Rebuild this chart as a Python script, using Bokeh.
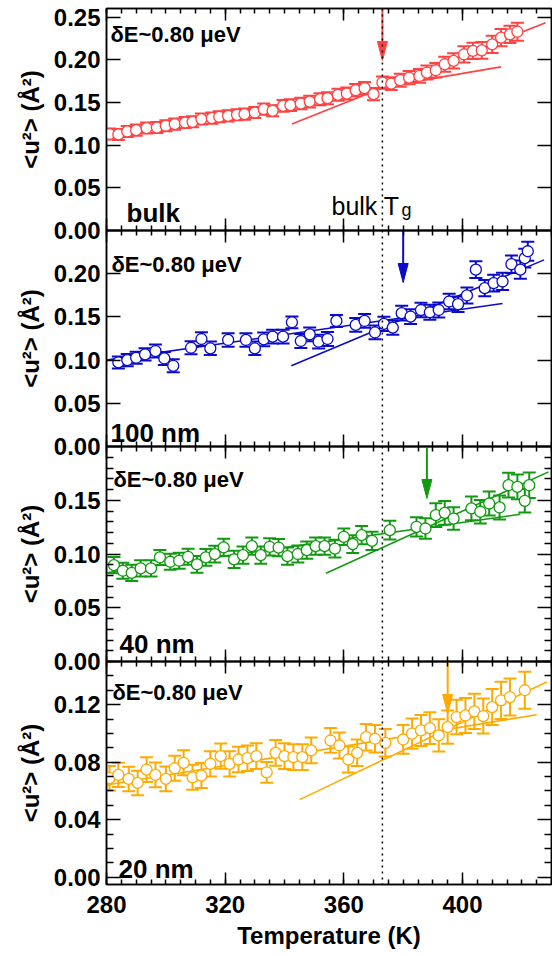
from bokeh.plotting import figure
from bokeh.models import (Range1d, LinearAxis, FixedTicker, PrintfTickFormatter,
                          Span, Whisker, TeeHead, ColumnDataSource, Label, CustomLabelingPolicy)
from bokeh.layouts import column
from bokeh.embed import file_html
from bokeh.resources import INLINE

FONT = "Liberation Sans"

# ---------------- data ----------------
X_MIN, X_MAX = 280, 430
x_ticks = [280, 320, 360, 400]
x_minor = [280, 285, 290, 295, 300, 305, 310, 315, 320, 325, 330, 335, 340, 345, 350,
           355, 360, 365, 370, 375, 380, 385, 390, 395, 400, 405, 410, 415, 420, 425, 430]

bulk_tg = 373
tg_arrow = [373, 380, 388, 395]
sample_names = ["bulk", "100 nm", "40 nm", "20 nm"]
resolution_text = "δE~0.80 μeV"

# bulk
T_bulk = [281, 284, 287, 290, 293.5, 297, 300, 303, 306.5, 309, 312, 315.5, 318, 321, 324,
          326.5, 330, 333, 336, 339.5, 342, 345.5, 348.5, 352, 354.5, 358, 361, 364, 367, 370,
          373, 376, 379, 382, 385.5, 388, 391, 394, 397, 400.5, 403.5, 406.5, 410, 413, 416, 418.5]
u2_bulk = [0.113, 0.1125, 0.116, 0.1175, 0.120, 0.1206, 0.1227, 0.1246, 0.1265, 0.1273,
           0.1305, 0.1316, 0.1332, 0.1343, 0.1355, 0.1363, 0.1382, 0.1421, 0.1402, 0.146,
           0.1468, 0.1487, 0.151, 0.1538, 0.155, 0.1589, 0.1604, 0.1643, 0.1667, 0.1597,
           0.1733, 0.172, 0.176, 0.179, 0.181, 0.185, 0.1877, 0.1947, 0.1986, 0.2064,
           0.2103, 0.211, 0.218, 0.2259, 0.2297, 0.2328]
err_bulk = [0.0065, 0.0065, 0.0065, 0.0065, 0.0065, 0.0065, 0.0065, 0.0065, 0.0065, 0.0065,
            0.0065, 0.0065, 0.0065, 0.0065, 0.0065, 0.0065, 0.0065, 0.0065, 0.0065, 0.0068,
            0.0068, 0.0068, 0.0068, 0.0070, 0.0070, 0.0070, 0.0070, 0.0072, 0.0072, 0.0072,
            0.0072, 0.0075, 0.0075, 0.0078, 0.0080, 0.0082, 0.0085, 0.0088, 0.0090, 0.0095,
            0.0095, 0.0098, 0.0100, 0.0100, 0.0102, 0.0105]
fit_lo_T_bulk = [280, 413]
fit_lo_u_bulk = [0.113, 0.1916]
fit_hi_T_bulk = [342.5, 428]
fit_hi_u_bulk = [0.1246, 0.2434]

# 100 nm
T_100 = [284, 287, 290, 293, 296.5, 299.5, 302.5, 308.5, 312, 315, 321, 327, 330, 333, 336,
         339.5, 342.5, 345.5, 348.5, 351.5, 354.5, 357.5, 364, 367, 370.5, 373.5, 376.5, 379.5,
         382.5, 386, 389, 392, 395.5, 398.5, 401.5, 404.5, 407.5, 410.5, 413.5, 416.5, 419.5,
         421, 422]
u2_100 = [0.0973, 0.100, 0.1027, 0.1066, 0.1105, 0.1019, 0.0934, 0.1143, 0.1244, 0.1136,
          0.1233, 0.1233, 0.1136, 0.124, 0.1271, 0.1271, 0.1438, 0.1221, 0.1298, 0.1213,
          0.1244, 0.1453, 0.1407, 0.1453, 0.132, 0.142, 0.1376, 0.1543, 0.1504, 0.158,
          0.1554, 0.158, 0.1678, 0.1647, 0.1748, 0.2047, 0.1833, 0.1891, 0.191, 0.211,
          0.2047, 0.218, 0.226]
err_100 = [0.0070, 0.0070, 0.0070, 0.0072, 0.0075, 0.0075, 0.0075, 0.0075, 0.0078, 0.0078,
           0.0078, 0.0078, 0.0078, 0.0080, 0.0080, 0.0080, 0.0068, 0.0080, 0.0080, 0.0080,
           0.0080, 0.0070, 0.0080, 0.0080, 0.0080, 0.0082, 0.0082, 0.0085, 0.0085, 0.0085,
           0.0088, 0.0088, 0.0090, 0.0090, 0.0092, 0.0097, 0.0095, 0.0098, 0.0100, 0.0102,
           0.0105, 0.0108, 0.0110]
fit_lo_T_100 = [280, 413.5]
fit_lo_u_100 = [0.100, 0.1655]
fit_hi_T_100 = [342.3, 427.5]
fit_hi_u_100 = [0.0934, 0.216]

# 40 nm
T_40 = [282.5, 285.5, 288.5, 291.5, 295, 298, 301.5, 304.5, 307.5, 310.5, 313.5, 316.5, 319.5,
        323, 326, 329, 332, 335, 338, 341, 344.5, 347.5, 350.5, 353.5, 357, 360, 363, 366,
        369.5, 375.5, 384.5, 387.5, 391, 394, 397, 403, 406, 409, 412.5, 415.5, 418.5, 421, 422.5]
u2_40 = [0.0897, 0.0844, 0.0825, 0.0866, 0.0866, 0.0968, 0.0928, 0.0937, 0.0974, 0.0903,
         0.0968, 0.0999, 0.1061, 0.095, 0.099, 0.1073, 0.099, 0.1067, 0.106, 0.098,
         0.100, 0.1036, 0.1073, 0.1073, 0.105, 0.116, 0.1092, 0.1176, 0.1123, 0.1222,
         0.1253, 0.1237, 0.1362, 0.1383, 0.133, 0.1424, 0.1393, 0.147, 0.1433, 0.164,
         0.1625, 0.1495, 0.164]
err_40 = [0.0075, 0.0075, 0.0075, 0.0075, 0.0075, 0.0070, 0.0075, 0.0075, 0.0075, 0.0078,
          0.0078, 0.0078, 0.0080, 0.0080, 0.0080, 0.0080, 0.0080, 0.0080, 0.0080, 0.0080,
          0.0080, 0.0080, 0.0080, 0.0080, 0.0082, 0.0077, 0.0082, 0.0085, 0.0085, 0.0088,
          0.0090, 0.0095, 0.0110, 0.0110, 0.0105, 0.0110, 0.0110, 0.0112, 0.0112, 0.0115,
          0.0115, 0.0110, 0.0118]
fit_lo_T_40 = [280, 419.5]
fit_lo_u_40 = [0.0826, 0.137]
fit_hi_T_40 = [354, 429]
fit_hi_u_40 = [0.082, 0.1764]

# 20 nm
T_20 = [281, 284, 287.5, 290.5, 293.5, 296.5, 300, 303, 306, 309, 312, 315, 318.5, 321.5,
        324.5, 327.5, 330.5, 334, 337, 340, 343, 346, 349, 355.5, 358.5, 361.5, 364.5, 367.5,
        370.5, 374, 380, 383, 386, 389, 392, 395, 398, 401, 404, 407, 410, 413, 416, 421]
u2_20 = [0.0689, 0.0712, 0.0684, 0.0656, 0.0749, 0.0712, 0.0684, 0.0758, 0.0796, 0.0695,
         0.0707, 0.0789, 0.0842, 0.0789, 0.0819, 0.0828, 0.0842, 0.073, 0.0865, 0.0842,
         0.0835, 0.0835, 0.0882, 0.0951, 0.0916, 0.0819, 0.0865, 0.0974, 0.0963, 0.0935,
         0.0958, 0.0998, 0.1021, 0.1037, 0.0986, 0.1044, 0.1114, 0.1125, 0.1153, 0.1121,
         0.1183, 0.123, 0.1253, 0.13]
err_20 = [0.0085, 0.0085, 0.0085, 0.0085, 0.0086, 0.0086, 0.0086, 0.0087, 0.0087, 0.0087,
          0.0087, 0.0088, 0.0088, 0.0088, 0.0088, 0.0089, 0.0089, 0.0072, 0.0089, 0.0090,
          0.0090, 0.0090, 0.0090, 0.0086, 0.0090, 0.0090, 0.0092, 0.0092, 0.0095, 0.0095,
          0.0100, 0.0105, 0.0108, 0.0110, 0.0112, 0.0115, 0.0120, 0.0122, 0.0122, 0.0122,
          0.0125, 0.0130, 0.0128, 0.0128]
fit_lo_T_20 = [280, 425]
fit_lo_u_20 = [0.0642, 0.113]
fit_hi_T_20 = [345.1, 428.4]
fit_hi_u_20 = [0.054, 0.1358]

y_ticks_bulk = [0.00, 0.05, 0.10, 0.15, 0.20, 0.25]
y_ticks_100 = [0.00, 0.05, 0.10, 0.15, 0.20]
y_ticks_40 = [0.00, 0.05, 0.10, 0.15]
y_minor_40 = [0.01, 0.02, 0.03, 0.04, 0.06, 0.07, 0.08, 0.09, 0.11, 0.12, 0.13, 0.14,
              0.16, 0.17, 0.18, 0.19]
y_ticks_20 = [0.00, 0.04, 0.08, 0.12]
y_minor_20 = [0.01, 0.02, 0.03, 0.05, 0.06, 0.07, 0.09, 0.10, 0.11, 0.13, 0.14, 0.15]

colors = ["#ff4242", "#0a0acc", "#129912", "#ffaa00"]

panels = [
    dict(T=T_bulk, u=u2_bulk, e=err_bulk, yr=(0.0, 0.26), fh=222, ymaj=y_ticks_bulk, ymin=[],
         lo=(fit_lo_T_bulk, fit_lo_u_bulk), hi=(fit_hi_T_bulk, fit_hi_u_bulk),
         name_off=(20, 18), de_off=(4, 26)),
    dict(T=T_100, u=u2_100, e=err_100, yr=(0.0, 0.25), fh=216, ymaj=y_ticks_100, ymin=[],
         lo=(fit_lo_T_100, fit_lo_u_100), hi=(fit_hi_T_100, fit_hi_u_100),
         name_off=(4, 14), de_off=(5, 34)),
    dict(T=T_40, u=u2_40, e=err_40, yr=(0.0, 0.20), fh=215, ymaj=y_ticks_40, ymin=y_minor_40,
         lo=(fit_lo_T_40, fit_lo_u_40), hi=(fit_hi_T_40, fit_hi_u_40),
         name_off=(13, 18), de_off=(7, 33)),
    dict(T=T_20, u=u2_20, e=err_20, yr=(-0.005, 0.15), fh=223, ymaj=y_ticks_20, ymin=y_minor_20,
         lo=(fit_lo_T_20, fit_lo_u_20), hi=(fit_hi_T_20, fit_hi_u_20),
         name_off=(12, 16), de_off=(6, 31)),
]

FW = 445
OVER = 14

HIDE_ALL = "for (const i of indices) { indices.unset(i) }\nreturn indices"


def style_axis(ax, show_labels, maj_in, min_in):
    ax.axis_line_color = "black"
    ax.axis_line_width = 1.5
    ax.major_tick_line_color = "black"
    ax.minor_tick_line_color = "black"
    ax.major_tick_line_width = 1.5
    ax.minor_tick_line_width = 1.5
    ax.major_tick_in = maj_in
    ax.major_tick_out = 0
    ax.minor_tick_in = min_in
    ax.minor_tick_out = 0
    if show_labels:
        ax.major_label_text_font = FONT
        ax.major_label_text_font_style = "bold"
        ax.major_label_text_font_size = "24px"
        ax.major_label_text_color = "black"
    else:
        ax.major_label_text_font_size = "0px"
        ax.major_label_standoff = 0
        ax.major_label_policy = CustomLabelingPolicy(code=HIDE_ALL)


figs = []
for i, P in enumerate(panels):
    last = i == len(panels) - 1
    c = colors[i]
    y0, y1 = P["yr"]
    ppu = P["fh"] / (y1 - y0)
    kpp = (X_MAX - X_MIN) / FW

    p = figure(frame_width=FW, frame_height=P["fh"],
               x_range=Range1d(X_MIN, X_MAX), y_range=Range1d(y0, y1),
               output_backend="svg", toolbar_location=None,
               min_border_left=106, min_border_right=1,
               min_border_top=8 if i == 0 else OVER,
               min_border_bottom=4 if last else OVER)
    p.background_fill_color = None
    p.border_fill_color = None
    p.outline_line_color = "black"
    p.outline_line_width = 1.5
    p.xgrid.visible = False
    p.ygrid.visible = False
    if i > 0:
        p.margin = (-2 * OVER, 0, 0, 0)

    xt = FixedTicker(ticks=x_ticks, minor_ticks=x_minor)
    yt = FixedTicker(ticks=P["ymaj"], minor_ticks=P["ymin"])

    xb = p.xaxis[0]
    xb.ticker = xt
    style_axis(xb, last, 12, 5)
    if last:
        xb.major_label_standoff = 11
        xb.axis_label = "Temperature (K)"
        xb.axis_label_text_font = FONT
        xb.axis_label_text_font_style = "bold"
        xb.axis_label_text_font_size = "24px"
        xb.axis_label_text_color = "black"
        xb.axis_label_standoff = 6

    xa = LinearAxis(ticker=xt)
    style_axis(xa, False, 12, 5)
    p.add_layout(xa, "above")

    yl = p.yaxis[0]
    yl.ticker = yt
    yl.formatter = PrintfTickFormatter(format="%.2f")
    style_axis(yl, True, 14, 7)
    yl.major_label_standoff = 6
    yl.axis_label = "<u²> (Å²)"
    yl.axis_label_text_font = FONT
    yl.axis_label_text_font_style = "bold"
    yl.axis_label_text_font_size = "24px"
    yl.axis_label_text_color = "black"
    yl.axis_label_standoff = 7

    yr_ax = LinearAxis(ticker=yt)
    style_axis(yr_ax, False, 14, 7)
    p.add_layout(yr_ax, "right")

    # error bars
    src = ColumnDataSource(data=dict(
        T=P["T"], u=P["u"],
        lo=[a - b for a, b in zip(P["u"], P["e"])],
        hi=[a + b for a, b in zip(P["u"], P["e"])]))
    wh = Whisker(source=src, base="T", lower="lo", upper="hi", dimension="height",
                 line_color=c, line_width=2, level="underlay",
                 upper_head=TeeHead(size=13, line_color=c, line_width=2),
                 lower_head=TeeHead(size=13, line_color=c, line_width=2))
    p.add_layout(wh)

    # linear fits
    p.line(P["lo"][0], P["lo"][1], line_color=c, line_width=1.6)
    p.line(P["hi"][0], P["hi"][1], line_color=c, line_width=1.6)

    # points
    p.scatter("T", "u", source=src, marker="circle", size=11, fill_color="white",
              line_color=c, line_width=1.3)

    # bulk Tg dotted line
    p.add_layout(Span(location=bulk_tg, dimension="height", line_color="black",
                      line_width=1.5, line_dash="dotted"))

    # Tg arrow
    tg = tg_arrow[i]
    tip = y1 - 52 / ppu
    base = tip + 19 / ppu
    hw = 5 * kpp
    p.segment(x0=[tg], y0=[y1], x1=[tg], y1=[base], line_color=c, line_width=2)
    p.patch(x=[tg - hw, tg + hw, tg], y=[base, base, tip], fill_color=c, line_color=c,
            line_width=1)

    # texts
    p.add_layout(Label(x=X_MIN, y=y1, x_offset=P["de_off"][0], y_offset=-P["de_off"][1],
                       text=resolution_text, text_font=FONT, text_font_style="bold",
                       text_font_size="22px", text_baseline="middle", text_align="left",
                       text_color="black"))
    p.add_layout(Label(x=X_MIN, y=y0, x_offset=P["name_off"][0], y_offset=P["name_off"][1],
                       text=sample_names[i], text_font=FONT, text_font_style="bold",
                       text_font_size="26px", text_baseline="alphabetic", text_align="left",
                       text_color="black"))
    if i == 0:
        p.add_layout(Label(x=X_MIN, y=y0, x_offset=225, y_offset=25, text="bulk T",
                           text_font=FONT, text_font_style="normal", text_font_size="25px",
                           text_baseline="alphabetic", text_align="left", text_color="black"))
        p.add_layout(Label(x=X_MIN, y=y0, x_offset=295, y_offset=21, text="g",
                           text_font=FONT, text_font_style="normal", text_font_size="18px",
                           text_baseline="alphabetic", text_align="left", text_color="black"))
    figs.append(p)

layout = column(*figs, spacing=0)
open("out.html", "w").write(file_html(layout, INLINE, title="Mean square displacement"))
